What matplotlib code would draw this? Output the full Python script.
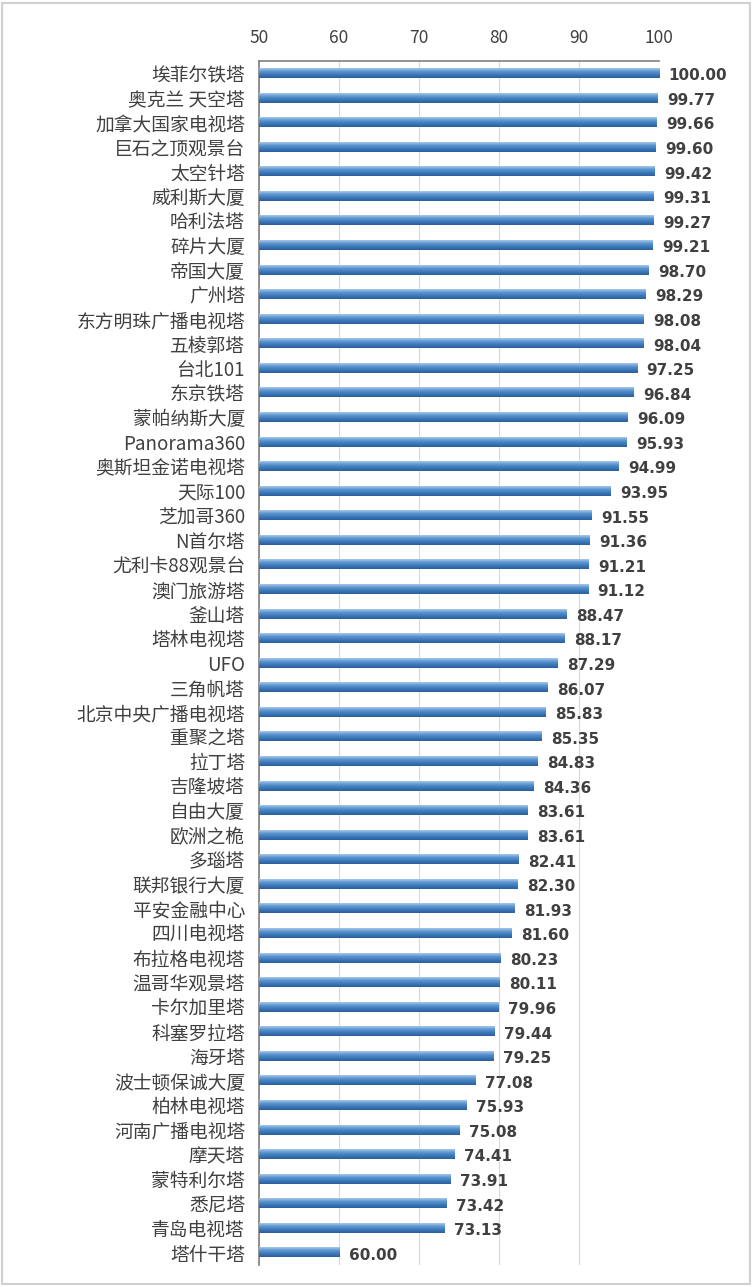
import numpy as np
import matplotlib.pyplot as plt
from matplotlib.patches import Rectangle
from matplotlib.colors import LinearSegmentedColormap

plt.rcParams['font.family'] = ['Noto Sans CJK SC', 'DejaVu Sans']

towers = ['埃菲尔铁塔', '奥克兰 天空塔', '加拿大国家电视塔', '巨石之顶观景台', '太空针塔',
          '威利斯大厦', '哈利法塔', '碎片大厦', '帝国大厦', '广州塔',
          '东方明珠广播电视塔', '五棱郭塔', '台北101', '东京铁塔', '蒙帕纳斯大厦',
          'Panorama360', '奥斯坦金诺电视塔', '天际100', '芝加哥360', 'N首尔塔',
          '尤利卡88观景台', '澳门旅游塔', '釜山塔', '塔林电视塔', 'UFO',
          '三角帆塔', '北京中央广播电视塔', '重聚之塔', '拉丁塔', '吉隆坡塔',
          '自由大厦', '欧洲之桅', '多瑙塔', '联邦银行大厦', '平安金融中心',
          '四川电视塔', '布拉格电视塔', '温哥华观景塔', '卡尔加里塔', '科塞罗拉塔',
          '海牙塔', '波士顿保诚大厦', '柏林电视塔', '河南广播电视塔', '摩天塔',
          '蒙特利尔塔', '悉尼塔', '青岛电视塔', '塔什干塔']
scores = [100.00, 99.77, 99.66, 99.60, 99.42,
          99.31, 99.27, 99.21, 98.70, 98.29,
          98.08, 98.04, 97.25, 96.84, 96.09,
          95.93, 94.99, 93.95, 91.55, 91.36,
          91.21, 91.12, 88.47, 88.17, 87.29,
          86.07, 85.83, 85.35, 84.83, 84.36,
          83.61, 83.61, 82.41, 82.30, 81.93,
          81.60, 80.23, 80.11, 79.96, 79.44,
          79.25, 77.08, 75.93, 75.08, 74.41,
          73.91, 73.42, 73.13, 60.00]
xticks = [50, 60, 70, 80, 90, 100]

fig = plt.figure(figsize=(7.52, 12.87), dpi=100)
ax = fig.add_axes([0.3444, 0.0171, 0.532, 0.9355])

y = np.arange(len(towers))
bars = ax.barh(y, np.array(scores) - 50, left=50, height=0.38, color='#4a86c5', zorder=2)

# vertical gradient on each bar: light on top, dark at the bottom
cmap = LinearSegmentedColormap.from_list('bar', ['#a9c8ea', '#5b95d0', '#3c78b8', '#2a5f9c'])
grad = np.linspace(0, 1, 64).reshape(-1, 1)
for b in bars:
    x0, y0 = b.get_x(), b.get_y()
    w, h = b.get_width(), b.get_height()
    ax.imshow(grad, aspect='auto', cmap=cmap, extent=(x0, x0 + w, y0 + h, y0),
              zorder=3, interpolation='bilinear')
    b.set_visible(False)

for i, v in enumerate(scores):
    ax.text(v + 1.2, i + 0.1, f'{v:.2f}', va='center', ha='left', fontsize=11,
            fontweight='bold', color='#404040', family='DejaVu Sans')

ax.set_xlim(50, 100)
ax.set_ylim(len(towers) - 0.5, -0.5)
ax.set_xticks(xticks)
ax.xaxis.tick_top()
ax.tick_params(axis='x', length=0, pad=10, labelsize=12.5, labelcolor='#404040')
ax.set_yticks(y)
ax.set_yticklabels(towers, fontsize=13.5, color='#404040')
ax.tick_params(axis='y', length=0, pad=10)
ax.grid(axis='x', color='#d9d9d9', linewidth=0.8, zorder=0)
ax.set_axisbelow(True)
for side in ['right', 'bottom']:
    ax.spines[side].set_visible(False)
ax.spines['top'].set_color('#808080')
ax.spines['left'].set_color('#808080')
ax.spines['top'].set_linewidth(1.2)
ax.spines['left'].set_linewidth(1.2)

fig.patches.append(Rectangle((0.002, 0.002), 0.996, 0.996, transform=fig.transFigure,
                             fill=False, edgecolor='#d0d0d0', linewidth=1.5))

fig.savefig('out.png', dpi=100)
